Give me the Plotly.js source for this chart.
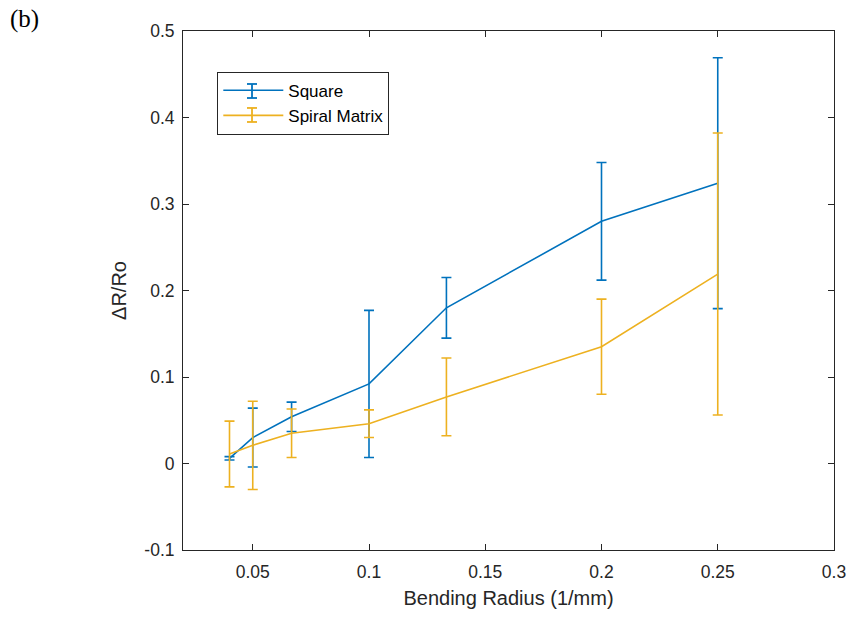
<!DOCTYPE html>
<html>
<head>
<meta charset="utf-8">
<script src="https://cdn.plot.ly/plotly-3.0.1.min.js"></script>
<style>
  html, body { margin: 0; padding: 0; background: #ffffff; }
  #chart { width: 850px; height: 618px; }
</style>
</head>
<body>
<div id="chart"></div>
<script>
// Bending radius (1/mm)
const bendingRadius = [0.04, 0.05, 0.0667, 0.1, 0.1333, 0.2, 0.25];

// Square series: mean and error (±)
const squareMean = [0.006, 0.030, 0.054, 0.092, 0.180, 0.280, 0.324];
const squareErr  = [0.002, 0.034, 0.017, 0.085, 0.035, 0.068, 0.145];

// Spiral Matrix series: mean and error (±)
const spiralMean = [0.011, 0.021, 0.035, 0.046, 0.077, 0.135, 0.219];
const spiralErr  = [0.038, 0.051, 0.028, 0.016, 0.045, 0.055, 0.163];

// Tick values / labels
const xTickVals = [0.05, 0.1, 0.15, 0.2, 0.25, 0.3];
const xTickText = ["0.05", "0.1", "0.15", "0.2", "0.25", "0.3"];
const yTickVals = [-0.1, 0, 0.1, 0.2, 0.3, 0.4, 0.5];
const yTickText = ["-0.1", "0", "0.1", "0.2", "0.3", "0.4", "0.5"];

const blue = "#0072BD";
const yellow = "#EDB120";
const axisColor = "#262626";
const fontFamily = "'Liberation Sans', Arial, Helvetica, sans-serif";

const traces = [
  {
    x: bendingRadius, y: squareMean, name: "Square",
    type: "scatter", mode: "lines",
    line: { color: blue, width: 1.6 },
    error_y: { type: "data", array: squareErr, visible: true, color: blue, thickness: 1.6, width: 5 }
  },
  {
    x: bendingRadius, y: spiralMean, name: "Spiral Matrix",
    type: "scatter", mode: "lines",
    line: { color: yellow, width: 1.6 },
    error_y: { type: "data", array: spiralErr, visible: true, color: yellow, thickness: 1.6, width: 5 }
  }
];

const axisCommon = {
  showline: true, linecolor: axisColor, linewidth: 1,
  mirror: "ticks", ticks: "inside", ticklen: 6, tickwidth: 1, tickcolor: axisColor,
  showgrid: false, zeroline: false,
  tickfont: { family: fontFamily, size: 17.5, color: axisColor }
};

// Error-bar glyphs inside the legend (legend samples, paper coordinates)
function legendErrGlyph(cx, cy, color) {
  const hh = 0.0135, hw = 0.0077;
  const base = { type: "line", xref: "paper", yref: "paper", layer: "above", line: { color: color, width: 1.8 } };
  return [
    Object.assign({}, base, { x0: cx, x1: cx, y0: cy - hh, y1: cy + hh }),
    Object.assign({}, base, { x0: cx - hw, x1: cx + hw, y0: cy + hh, y1: cy + hh }),
    Object.assign({}, base, { x0: cx - hw, x1: cx + hw, y0: cy - hh, y1: cy - hh })
  ];
}

const layout = {
  width: 850, height: 618,
  paper_bgcolor: "#ffffff", plot_bgcolor: "#ffffff",
  margin: { l: 183, r: 16, t: 31, b: 68 },
  showlegend: true,
  font: { family: fontFamily, color: axisColor },
  xaxis: Object.assign({}, axisCommon, {
    range: [0.02, 0.3],
    tickmode: "array", tickvals: xTickVals, ticktext: xTickText,
    ticklabelstandoff: 6,
    title: { text: "Bending Radius (1/mm)", font: { family: fontFamily, size: 20, color: axisColor }, standoff: 9 },
    automargin: false
  }),
  yaxis: Object.assign({}, axisCommon, {
    range: [-0.1, 0.5],
    tickmode: "array", tickvals: yTickVals, ticktext: yTickText,
    ticklabelstandoff: 4,
    title: { text: "ΔR/Ro", font: { family: fontFamily, size: 20, color: axisColor }, standoff: 12 },
    automargin: false
  }),
  legend: {
    x: 0.0527, y: 0.9216, xanchor: "left", yanchor: "top",
    bgcolor: "rgba(255,255,255,0)", bordercolor: axisColor, borderwidth: 1,
    font: { family: fontFamily, size: 17, color: "#000000" },
    itemwidth: 60,
    tracegroupgap: 0
  },
  shapes: [].concat(
    legendErrGlyph(0.106, 0.8844, blue),
    legendErrGlyph(0.106, 0.8382, yellow)
  ),
  annotations: [
    {
      text: "(b)", xref: "paper", yref: "paper",
      x: -0.2688, y: 1.023, xanchor: "left", yanchor: "middle",
      showarrow: false,
      font: { family: "'Liberation Serif', 'Times New Roman', serif", size: 25, color: "#000000" }
    }
  ]
};

Plotly.newPlot("chart", traces, layout, { displayModeBar: false, staticPlot: true });
</script>
</body>
</html>
